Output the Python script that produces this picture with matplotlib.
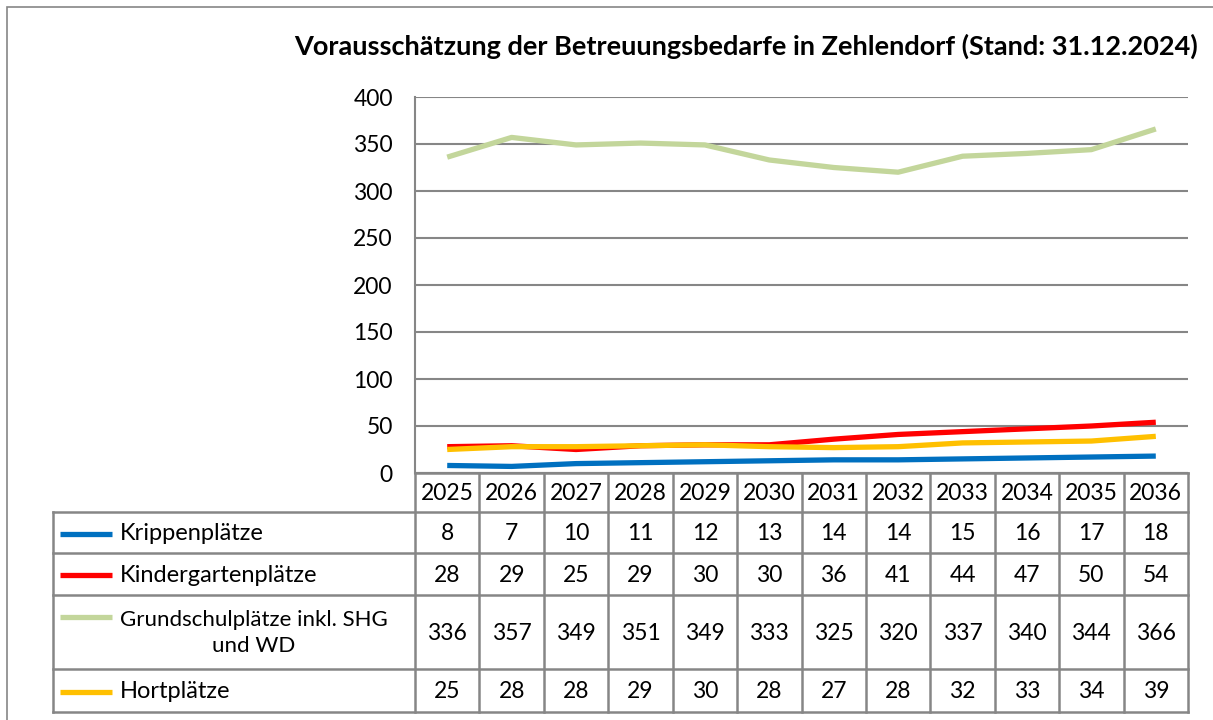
import numpy as np
import matplotlib
matplotlib.use("Agg")
import matplotlib.pyplot as plt
from matplotlib.patches import Rectangle

plt.rcParams['font.family'] = ['Lato', 'DejaVu Sans']

years = [2025, 2026, 2027, 2028, 2029, 2030, 2031, 2032, 2033, 2034, 2035, 2036]
krippe = [8, 7, 10, 11, 12, 13, 14, 14, 15, 16, 17, 18]
kita = [28, 29, 25, 29, 30, 30, 36, 41, 44, 47, 50, 54]
grundschule = [336, 357, 349, 351, 349, 333, 325, 320, 337, 340, 344, 366]
hort = [25, 28, 28, 29, 30, 28, 27, 28, 32, 33, 34, 39]

series_names = ["Krippenplätze", "Kindergartenplätze",
                "Grundschulplätze inkl. SHG\nund WD", "Hortplätze"]
series_values = [krippe, kita, grundschule, hort]
series_colors = ["#0070C0", "#FF0000", "#C3D69B", "#FFC000"]
y_ticks = [0, 50, 100, 150, 200, 250, 300, 350, 400]

W, H = 1213, 720
grid_col = "#868686"
fs = 16.5      # numbers
fs_lab = 17    # row labels


def fx(px):
    return px / W


def fy(py):
    return 1 - py / H


fig = plt.figure(figsize=(W / 100, H / 100), dpi=100)

# outer chart frame
fig.patches.append(Rectangle((fx(7), -0.1), 1.2, fy(7) + 0.1, transform=fig.transFigure,
                             fill=False, edgecolor=grid_col, lw=1.2))

# line plot
ax = fig.add_axes([fx(415), fy(473), fx(1188) - fx(415), fy(97) - fy(473)])
x = np.arange(len(years))
for vals, col, name in zip(series_values, series_colors, series_names):
    ax.plot(x, vals, color=col, lw=3.8, label=name, solid_capstyle='butt', zorder=3)
ax.set_xlim(-0.5, len(years) - 0.5)
ax.set_ylim(0, 400)
ax.set_yticks(y_ticks)
ax.set_xticks([])
ax.yaxis.grid(True, color=grid_col, lw=1.5)
ax.set_axisbelow(True)
for s in ['top', 'right', 'bottom']:
    ax.spines[s].set_visible(False)
ax.spines['left'].set_color(grid_col)
ax.spines['left'].set_linewidth(1.5)
ax.tick_params(axis='y', length=0, pad=16, labelsize=fs)
ax.axhline(0, color=grid_col, lw=1.5)

fig.text(fx(1198), fy(46), "Vorausschätzung der Betreuungsbedarfe in Zehlendorf (Stand: 31.12.2024)",
         ha='right', va='center', fontsize=19.5, fontweight='bold')

# data table below the plot
col_w = 773 / len(years)
left_units = -0.5 - (415 - 53) / col_w
tab = fig.add_axes([fx(53), fy(712), fx(1188) - fx(53), fy(473) - fy(712)])
tab.set_xlim(left_units, len(years) - 0.5)
tab.set_ylim(712, 473)
tab.axis('off')

row_edges = [473, 512, 553, 595, 669, 712]
lw = 1.8
# header row (years)
for i, yr in enumerate(years):
    tab.text(i, (row_edges[0] + row_edges[1]) / 2 + 1, str(yr), ha='center', va='center', fontsize=fs)
# horizontal lines
tab.plot([-0.5, len(years) - 0.5], [row_edges[0]] * 2, color=grid_col, lw=lw, clip_on=False)
for r in row_edges[1:]:
    tab.plot([left_units, len(years) - 0.5], [r, r], color=grid_col, lw=lw, clip_on=False)
# vertical lines
for i in range(len(years) + 1):
    tab.plot([i - 0.5, i - 0.5], [row_edges[0], row_edges[-1]], color=grid_col, lw=lw, clip_on=False)
tab.plot([left_units, left_units], [row_edges[1], row_edges[-1]], color=grid_col, lw=lw, clip_on=False)

key_x0 = left_units + (60 - 53) / col_w
key_x1 = left_units + (112 - 53) / col_w
text_x = left_units + (120 - 53) / col_w
for k, (vals, col, name) in enumerate(zip(series_values, series_colors, series_names)):
    yc = (row_edges[k + 1] + row_edges[k + 2]) / 2 + 1
    if "\n" in name:
        tab.plot([key_x0, key_x1], [yc - 16, yc - 16], color=col, lw=3.8, solid_capstyle='butt')
        tab.text(text_x, yc, name, ha='left', va='center', fontsize=16,
                 multialignment='center', linespacing=1.35)
    else:
        tab.plot([key_x0, key_x1], [yc, yc], color=col, lw=3.8, solid_capstyle='butt')
        tab.text(text_x, yc, name, ha='left', va='center', fontsize=fs_lab)
    for i, v in enumerate(vals):
        tab.text(i, yc, str(v), ha='center', va='center', fontsize=fs)

fig.savefig("out.png", dpi=100)
